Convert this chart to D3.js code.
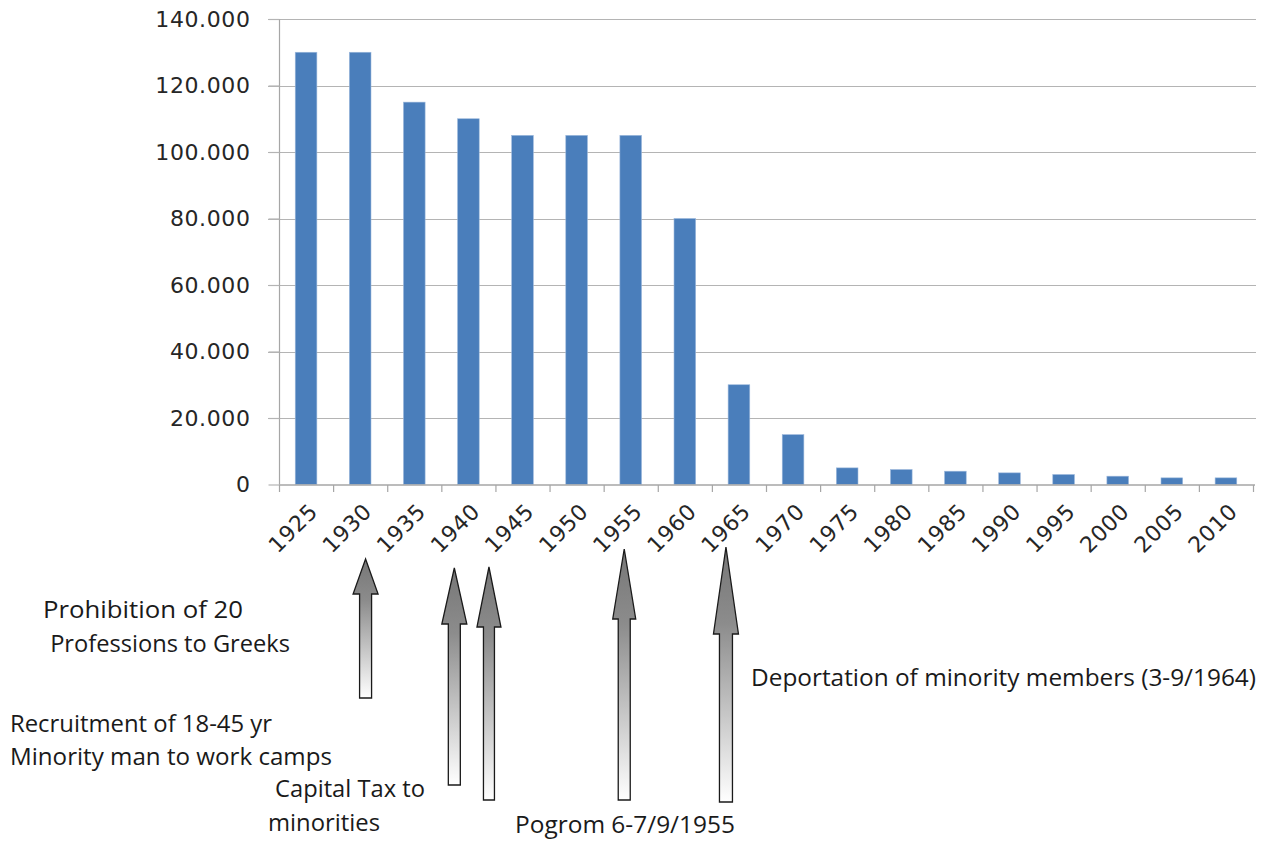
<!DOCTYPE html>
<html>
<head>
<meta charset="utf-8">
<script src="https://cdn.jsdelivr.net/npm/d3@7"></script>
<style>
  body { margin: 0; background: #fff; }
  svg { display: block; }
</style>
</head>
<body>
<svg id="chart"></svg>
<script>
// years on the x axis
var years = ["1925","1930","1935","1940","1945","1950","1955","1960","1965",
             "1970","1975","1980","1985","1990","1995","2000","2005","2010"];
// population estimate per year
var population = [130000,130000,115000,110000,105000,105000,105000,80000,30000,
                  15000,5000,4500,4000,3500,3000,2500,2000,2000];
var yTicks = [0,20000,40000,60000,80000,100000,120000,140000];

// event arrows: where they sit (in years) and their text
var eventYears = [1930.5, 1938.7, 1941.9, 1954.4, 1963.8];
var eventNotes = [
  {lines: ["Prohibition of 20", " Professions to Greeks"]},
  {lines: ["Recruitment of 18-45 yr", "Minority man to work camps"]},
  {lines: ["Capital Tax to", "minorities"]},
  {lines: ["Pogrom 6-7/9/1955"]},
  {lines: ["Deportation of minority members (3-9/1964)"]}
];

function drawChart(target) {
  var setup = {
    width: 1262,
    height: 841,
    left: 279,
    right: 1253,
    top: 19,
    bottom: 484.5
  };

  var svg = d3.select(target)
    .attr("width", setup.width)
    .attr("height", setup.height);

  var x = d3.scaleBand()
    .domain(years)
    .range([setup.left, setup.right])
    .paddingInner(0.6)
    .paddingOuter(0.3);

  var y = d3.scaleLinear()
    .domain([0, 140000])
    .range([setup.bottom, setup.top]);

  // year -> pixel, through the band centres of 1925 and 2010
  var yearX = d3.scaleLinear()
    .domain([1925, 2010])
    .range([x("1925") + x.bandwidth()/2, x("2010") + x.bandwidth()/2]);

  var fmt = d3.formatLocale({decimal: ",", thousands: ".", grouping: [3], currency: ["", ""]}).format(",");

  // gridlines
  svg.append("g")
    .selectAll("line")
    .data(yTicks.filter(d => d > 0))
    .join("line")
      .attr("x1", setup.left - 11)
      .attr("x2", 1256)
      .attr("y1", d => Math.round(y(d)) + 0.5)
      .attr("y2", d => Math.round(y(d)) + 0.5)
      .attr("stroke", "#b4b4b4")
      .attr("stroke-width", 1.2);

  // bars
  svg.append("g")
    .selectAll("rect")
    .data(years)
    .join("rect")
      .attr("x", d => x(d))
      .attr("y", (d, i) => y(population[i]))
      .attr("width", x.bandwidth())
      .attr("height", (d, i) => y(0) - y(population[i]))
      .attr("fill", "#4a7ebb")
      .attr("stroke", "#9cb8dc")
      .attr("stroke-width", 0.6);

  // y axis
  var yAxis = d3.axisLeft(y)
    .tickValues(yTicks)
    .tickSize(11)
    .tickFormat(fmt);

  var gy = svg.append("g")
    .attr("transform", "translate(" + (setup.left + 0.5) + ",0)")
    .call(yAxis);
  gy.select(".domain").attr("stroke", "#a6a6a6").attr("stroke-width", 1.2)
    .attr("d", "M0," + setup.top + "V" + setup.bottom);
  gy.selectAll(".tick line").attr("stroke", "#b4b4b4").attr("stroke-width", 1.2);
  gy.selectAll(".tick text")
    .attr("x", -29)
    .attr("dy", "0.34em")
    .attr("font-family", "DejaVu Sans, Verdana, sans-serif")
    .attr("font-size", 22)
    .attr("letter-spacing", 0.6)
    .attr("fill", "#262626");

  // x axis
  var gx = svg.append("g")
    .attr("transform", "translate(0," + (setup.bottom + 0.5) + ")");
  gx.append("line")
    .attr("x1", setup.left).attr("x2", setup.right + 2)
    .attr("stroke", "#a6a6a6").attr("stroke-width", 1.5);
  gx.selectAll("line.tk")
    .data(d3.range(years.length + 1))
    .join("line")
      .attr("class", "tk")
      .attr("x1", i => setup.left + i * x.step() + 0.5)
      .attr("x2", i => setup.left + i * x.step() + 0.5)
      .attr("y1", 0).attr("y2", 7)
      .attr("stroke", "#a6a6a6").attr("stroke-width", 1.2);
  gx.selectAll("text")
    .data(years)
    .join("text")
      .attr("transform", d => "translate(" + (x(d) + x.bandwidth()/2 + 2) + ",17) rotate(-45)")
      .attr("text-anchor", "end")
      .attr("dy", "0.7em")
      .attr("font-family", "DejaVu Sans, Verdana, sans-serif")
      .attr("font-size", 22)
      .attr("letter-spacing", 0.6)
      .attr("fill", "#262626")
      .text(d => d);

  // arrow gradient
  var defs = svg.append("defs");
  var grad = defs.append("linearGradient")
    .attr("id", "arrowFill")
    .attr("x1", 0).attr("y1", 0).attr("x2", 0).attr("y2", 1);
  grad.append("stop").attr("offset", "0%").attr("stop-color", "#777777");
  grad.append("stop").attr("offset", "30%").attr("stop-color", "#8c8c8c");
  grad.append("stop").attr("offset", "100%").attr("stop-color", "#ffffff");

  // arrow shapes (tip, head base, bottom, head half width, shaft half width)
  var arrowShape = [
    {tip: 559, base: 594, end: 698, hw: 12.5, sw: 6},
    {tip: 568, base: 624, end: 785, hw: 12.5, sw: 6},
    {tip: 567, base: 627, end: 800, hw: 12, sw: 5.5},
    {tip: 549, base: 619, end: 800, hw: 11.5, sw: 6},
    {tip: 547, base: 634, end: 802, hw: 12.5, sw: 6.5}
  ];

  svg.append("g")
    .selectAll("path")
    .data(eventYears)
    .join("path")
      .attr("d", (d, i) => {
        var a = arrowShape[i], cx = yearX(d);
        return "M" + cx + "," + a.tip +
          "L" + (cx + a.hw) + "," + a.base +
          "L" + (cx + a.sw) + "," + a.base +
          "L" + (cx + a.sw) + "," + a.end +
          "L" + (cx - a.sw) + "," + a.end +
          "L" + (cx - a.sw) + "," + a.base +
          "L" + (cx - a.hw) + "," + a.base + "Z";
      })
      .attr("fill", "url(#arrowFill)")
      .attr("stroke", "#1a1a1a")
      .attr("stroke-width", 1.3);

  // note text placement
  var notePos = [
    [{x: 43, y: 618, w: 200}, {x: 44, y: 652, w: 246}],
    [{x: 10, y: 732, w: 262}, {x: 10, y: 765, w: 322}],
    [{x: 275, y: 797, w: 150}, {x: 268, y: 831, w: 112}],
    [{x: 515, y: 833, w: 220}],
    [{x: 751, y: 686, w: 505}]
  ];

  var notes = svg.append("g")
    .attr("font-family", "Open Sans, Lato, sans-serif")
    .attr("font-size", 24)
    .attr("fill", "#1a1a1a");

  eventNotes.forEach((n, i) => {
    n.lines.forEach((t, j) => {
      var p = notePos[i][j];
      notes.append("text")
        .attr("x", p.x)
        .attr("y", p.y)
        .attr("textLength", p.w)
        .attr("lengthAdjust", "spacingAndGlyphs")
        .attr("xml:space", "preserve")
        .text(t);
    });
  });
}

drawChart("#chart");
</script>
</body>
</html>
